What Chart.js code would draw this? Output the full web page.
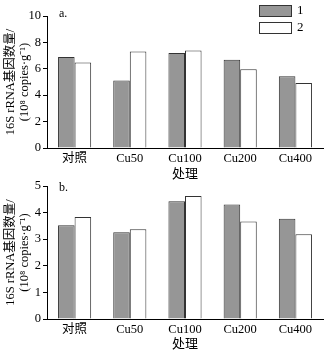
<!DOCTYPE html>
<html>
<head>
<meta charset="utf-8">
<script src="https://cdn.jsdelivr.net/npm/chart.js@4/dist/chart.umd.min.js"></script>
<style>
  html, body { margin: 0; padding: 0; background: #fff; }
  .wrap { position: relative; width: 329px; height: 352px; }
  .box { position: absolute; left: 0; width: 329px; height: 182px; }
  #boxA { top: 0; }
  #boxB { top: 170px; }
</style>
</head>
<body>
<div class="wrap">
  <div class="box" id="boxA"><canvas id="chartA"></canvas></div>
  <div class="box" id="boxB"><canvas id="chartB"></canvas></div>
</div>
<script>
const categories = ["对照", "Cu50", "Cu100", "Cu200", "Cu400"];
const seriesNames = ["1", "2"];
const seriesA1 = [6.9, 5.12, 7.2, 6.68, 5.43];
const seriesA2 = [6.47, 7.32, 7.38, 5.97, 4.93];
const seriesB1 = [3.52, 3.26, 4.43, 4.3, 3.77];
const seriesB2 = [3.83, 3.37, 4.62, 3.67, 3.19];
const ticksA = [0, 2, 4, 6, 8, 10];
const ticksB = [0, 1, 2, 3, 4, 5];

const serif = "'Liberation Serif', 'Noto Sans CJK SC', serif";
const yTitle = ["16S rRNA基因数量/", "(10⁸ copies·g⁻¹)"];

// panel letter in the top-left corner of the plot
const panelLabel = {
  id: "panelLabel",
  afterDraw(chart, args, opts) {
    const ctx = chart.ctx;
    const area = chart.chartArea;
    ctx.save();
    ctx.fillStyle = "#000";
    ctx.font = "12px " + serif;
    ctx.textBaseline = "middle";
    ctx.fillText(opts.text, area.left + 12, area.top + opts.dy);
    ctx.restore();
  }
};

// stacked legend drawn from the datasets
const stackLegend = {
  id: "stackLegend",
  afterDraw(chart, args, opts) {
    if (!opts.show) return;
    const ctx = chart.ctx;
    ctx.save();
    ctx.font = "13px " + serif;
    ctx.textBaseline = "middle";
    chart.data.datasets.forEach((ds, i) => {
      const x = 259, y = 5 + i * 17;
      ctx.fillStyle = ds.backgroundColor;
      ctx.fillRect(x, y, 32, 11);
      ctx.strokeStyle = ds.borderColor;
      ctx.lineWidth = 1;
      ctx.strokeRect(x + 0.5, y + 0.5, 32, 11);
      ctx.fillStyle = "#000";
      ctx.fillText(ds.label, x + 38, y + 6);
    });
    ctx.restore();
  }
};

function makeChart(id, s1, s2, ticks, padTop, xHeight, letter, letterDy, showLegend) {
  const ctx = document.getElementById(id).getContext("2d");
  return new Chart(ctx, {
    type: "bar",
    data: {
      labels: categories,
      datasets: [
        { label: seriesNames[0], data: s1, backgroundColor: "#969696", borderColor: "#333333", borderWidth: 1 },
        { label: seriesNames[1], data: s2, backgroundColor: "#ffffff", borderColor: "#333333", borderWidth: 1 }
      ]
    },
    options: {
      responsive: true,
      maintainAspectRatio: false,
      animation: false,
      layout: { padding: { top: padTop, right: 6, left: 0, bottom: 0 } },
      datasets: { bar: { categoryPercentage: 0.6, barPercentage: 1 } },
      plugins: {
        legend: { display: false },
        tooltip: { enabled: false },
        panelLabel: { text: letter, dy: letterDy },
        stackLegend: { show: showLegend }
      },
      scales: {
        x: {
          grid: { display: false, drawTicks: false, tickLength: 0 },
          border: { display: true, color: "#000", width: 1 },
          ticks: { color: "#000", font: { family: serif, size: 12.5 }, padding: 3 },
          title: { display: true, text: "处理", color: "#000", font: { family: serif, size: 13 }, padding: { top: 2, bottom: 0 } },
          afterFit(scale) { scale.height = xHeight; }
        },
        y: {
          min: ticks[0],
          max: ticks[ticks.length - 1],
          afterBuildTicks(scale) { scale.ticks = ticks.map(v => ({ value: v })); },
          grid: { display: true, drawOnChartArea: false, drawTicks: true, tickLength: 4, color: "#000" },
          border: { display: true, color: "#000", width: 1 },
          ticks: { color: "#000", font: { family: serif, size: 12.5 }, padding: 2 },
          title: { display: true, text: yTitle, color: "#000", font: { family: serif, size: 12.5, lineHeight: 1.1 }, padding: { top: 4, bottom: 0 } },
          afterFit(scale) { scale.width = 47; }
        }
      }
    },
    plugins: [panelLabel, stackLegend]
  });
}

makeChart("chartA", seriesA1, seriesA2, ticksA, 16, 34, "a.", -2, true);
makeChart("chartB", seriesB1, seriesB2, ticksB, 16, 33, "b.", 2, false);
</script>
</body>
</html>
